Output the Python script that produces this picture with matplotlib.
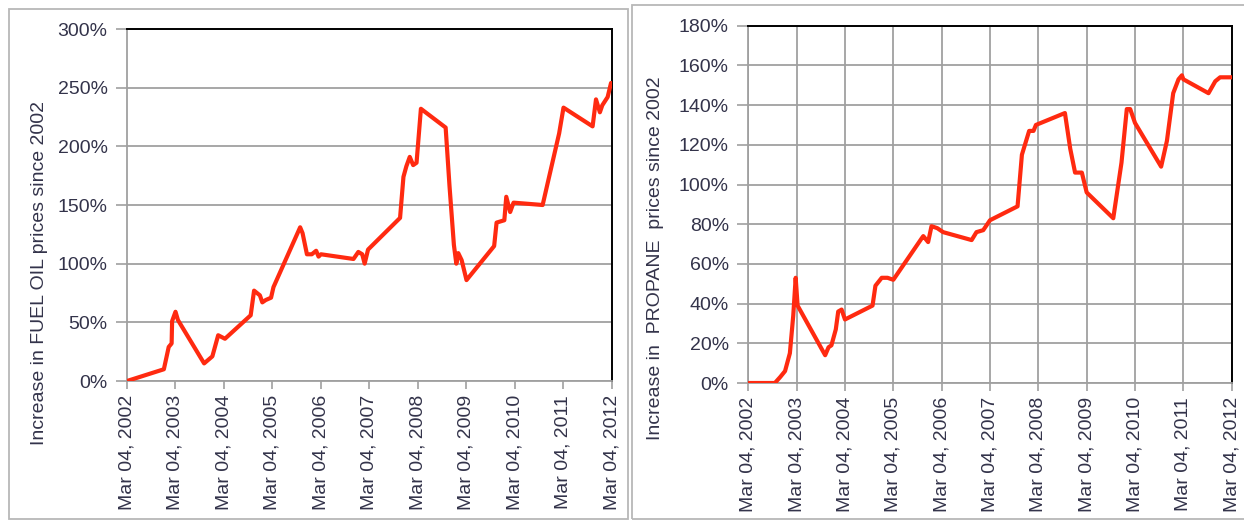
import matplotlib
matplotlib.use("Agg")
import matplotlib.pyplot as plt
from matplotlib.patches import Rectangle
from matplotlib.ticker import FuncFormatter, MultipleLocator

# fuel oil: fractional year, % increase since 2002
fuel_t = [2002.0, 2002.76, 2002.86, 2002.92, 2002.93, 2003.0, 2003.05, 2003.59,
          2003.76, 2003.88, 2004.02, 2004.55, 2004.62, 2004.74, 2004.79, 2004.86,
          2004.97, 2005.02, 2005.57, 2005.62, 2005.71, 2005.81, 2005.90, 2005.95,
          2006.0, 2006.67, 2006.77, 2006.85, 2006.90, 2006.97, 2007.63, 2007.70,
          2007.76, 2007.83, 2007.90, 2007.97, 2008.06, 2008.57, 2008.65, 2008.74,
          2008.79, 2008.83, 2008.90, 2009.0, 2009.57, 2009.62, 2009.78, 2009.82,
          2009.90, 2009.97, 2010.57, 2010.67, 2010.91, 2011.0, 2011.60, 2011.67,
          2011.75, 2011.80, 2011.91, 2011.98, 2012.0]
fuel_v = [0, 10, 29, 32, 51, 59, 52, 15,
          21, 39, 36, 56, 77, 73, 67, 69,
          71, 80, 131, 126, 108, 108, 111, 106,
          108, 104, 110, 108, 100, 112, 139, 174,
          183, 191, 184, 186, 232, 216, 166, 116,
          100, 109, 103, 86, 115, 135, 137, 157,
          144, 152, 150, 168, 211, 233, 217, 240,
          229, 235, 242, 254, 252]

# propane
prop_t = [2002.0, 2002.55, 2002.66, 2002.76, 2002.86, 2002.93, 2002.98, 2003.02,
          2003.59, 2003.66, 2003.72, 2003.81, 2003.86, 2003.93, 2004.0, 2004.57,
          2004.63, 2004.76, 2004.88, 2005.0, 2005.59, 2005.62, 2005.72, 2005.79,
          2005.91, 2006.03, 2006.62, 2006.72, 2006.86, 2007.0, 2007.57, 2007.66,
          2007.81, 2007.90, 2007.95, 2008.55, 2008.66, 2008.76, 2008.90, 2009.0,
          2009.55, 2009.72, 2009.83, 2009.90, 2010.0, 2010.54, 2010.66, 2010.79,
          2010.90, 2010.97, 2011.0, 2011.52, 2011.66, 2011.76, 2011.90, 2012.0]
prop_v = [0, 0, 3, 6, 15, 34, 53, 39,
          14, 18, 19, 27, 36, 37, 32, 39,
          49, 53, 53, 52, 73, 74, 71, 79,
          78, 76, 72, 76, 77, 82, 89, 115,
          127, 127, 130, 136, 118, 106, 106, 96,
          83, 111, 138, 138, 131, 109, 122, 146,
          153, 155, 153, 146, 152, 154, 154, 154]

years = list(range(2002, 2013))
tick_labels = ["Mar 04, %d" % y for y in years]

txt = "#33334a"
grid = "#a0a0a0"
red = "#ff2a10"
plt.rcParams["font.family"] = ["Liberation Sans", "DejaVu Sans"]

fig = plt.figure(figsize=(12.44, 5.21), dpi=100)
W, H = 1244.0, 521.0

# panel frames
fig.patches.append(Rectangle((9 / W, 1 - 519 / H), 619 / W, 510 / H, transform=fig.transFigure,
                             fill=False, ec="#b8b8b8", lw=1.3))
fig.patches.append(Rectangle((632 / W, 1 - 519 / H), 630 / W, 514 / H, transform=fig.transFigure,
                             fill=False, ec="#b8b8b8", lw=1.3))


def make(rect, t, v, ymax, ystep, ylabel, lx, ly, vgrid):
    ax = fig.add_axes(rect)
    ax.plot(t, v, color=red, lw=3.0, solid_joinstyle="round", zorder=3)
    ax.set_xlim(2002, 2012)
    ax.set_ylim(0, ymax)
    ax.yaxis.set_major_locator(MultipleLocator(ystep))
    ax.yaxis.set_major_formatter(FuncFormatter(lambda y, p: "%d%%" % round(y)))
    ax.set_xticks(years)
    ax.set_xticklabels(tick_labels, rotation=90)
    ax.grid(axis="y", color=grid, lw=1.3)
    if vgrid:
        ax.grid(axis="x", color=grid, lw=1.3)
    ax.set_axisbelow(True)
    for s in ["left", "bottom"]:
        ax.spines[s].set_color(grid)
        ax.spines[s].set_linewidth(1.3)
    for s in ["top", "right"]:
        ax.spines[s].set_color("black")
        ax.spines[s].set_linewidth(1.4)
    ax.tick_params(axis="y", length=8, width=1.2, color=grid, labelsize=14, labelcolor=txt, pad=6)
    ax.tick_params(axis="x", length=6, width=1.2, color=grid, labelsize=14, labelcolor=txt, pad=4)
    fig.text(lx / W, 1 - ly / H, ylabel, rotation=90, ha="center", va="center",
             fontsize=14, color=txt)
    return ax


make([127 / W, 1 - 381 / H, 485 / W, 352 / H], fuel_t, fuel_v, 300, 50,
     "Increase in FUEL OIL prices since 2002", 40, 273, False)
make([748.3 / W, 1 - 383 / H, 483.4 / W, 357.3 / H], prop_t, prop_v, 180, 20,
     "Increase in  PROPANE  prices since 2002", 655, 258, True)

fig.savefig("out.png", dpi=100)
